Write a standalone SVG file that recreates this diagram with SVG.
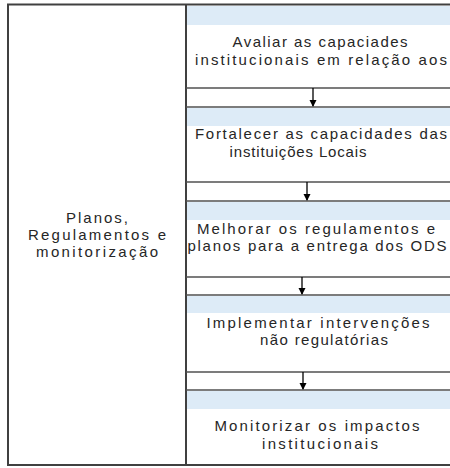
<svg xmlns="http://www.w3.org/2000/svg" width="450" height="468" viewBox="0 0 450 468">
<style>
.frame{fill:none;stroke:#404040;stroke-width:2}
.hl{stroke:#505050;stroke-width:1.5}
.band{fill:#DDEBF7}
.t{font-family:"Liberation Sans",Arial,sans-serif;font-size:15px;fill:#262626;text-anchor:middle}
.arr{stroke:#000;stroke-width:1.3;fill:none}
</style>
<defs>
<marker id="ah" markerWidth="8" markerHeight="8" refX="6" refY="4" orient="auto" markerUnits="userSpaceOnUse">
<path d="M0,0.5 L7,4 L0,7.5 Z" fill="#000"/>
</marker>
</defs>
<rect x="0" y="0" width="450" height="468" fill="#fff"/>
<g id="frame">
<path class="frame" d="M451,4.5 H8 V465 H451"/>
<line class="frame" x1="186" y1="4.5" x2="186" y2="465"/>
</g>
<g id="left">
<text class="t" x="97" y="223" textLength="62" lengthAdjust="spacing">Planos,</text>
<text class="t" x="97" y="240" textLength="138" lengthAdjust="spacing">Regulamentos e</text>
<text class="t" x="97" y="257" textLength="122" lengthAdjust="spacing">monitorização</text>
</g>
<g id="step1">
<rect class="band" x="187" y="6" width="263" height="19"/>
<text class="t" x="320" y="47" textLength="175" lengthAdjust="spacing">Avaliar as capaciades</text>
<text class="t" x="321" y="65" textLength="252" lengthAdjust="spacing">institucionais em relação aos</text>
</g>
<g id="step2">
<rect class="band" x="187" y="108" width="263" height="18"/>
<text class="t" x="321" y="139" textLength="252" lengthAdjust="spacing">Fortalecer as capacidades das</text>
<text class="t" x="298" y="157" textLength="137" lengthAdjust="spacing">instituições Locais</text>
</g>
<g id="step3">
<rect class="band" x="187" y="202" width="263" height="18"/>
<text class="t" x="316" y="234" textLength="238" lengthAdjust="spacing">Melhorar os regulamentos e</text>
<text class="t" x="317" y="251" textLength="259" lengthAdjust="spacing">planos para a entrega dos ODS</text>
</g>
<g id="step4">
<rect class="band" x="187" y="296" width="263" height="17"/>
<text class="t" x="318" y="328" textLength="223" lengthAdjust="spacing">Implementar intervenções</text>
<text class="t" x="324" y="345" textLength="128" lengthAdjust="spacing">não regulatórias</text>
</g>
<g id="step5">
<rect class="band" x="187" y="391" width="263" height="18"/>
<text class="t" x="317" y="431" textLength="205" lengthAdjust="spacing">Monitorizar os impactos</text>
<text class="t" x="320" y="449" textLength="116" lengthAdjust="spacing">institucionais</text>
</g>
<g id="connectors">
<line class="hl" x1="186" y1="88" x2="450" y2="88"/>
<line class="hl" x1="186" y1="107" x2="450" y2="107"/>
<line class="hl" x1="186" y1="182" x2="450" y2="182"/>
<line class="hl" x1="186" y1="201" x2="450" y2="201"/>
<line class="hl" x1="186" y1="277" x2="450" y2="277"/>
<line class="hl" x1="186" y1="295" x2="450" y2="295"/>
<line class="hl" x1="186" y1="372" x2="450" y2="372"/>
<line class="hl" x1="186" y1="390" x2="450" y2="390"/>
<line class="arr" x1="313" y1="88" x2="313" y2="106" marker-end="url(#ah)"/>
<line class="arr" x1="307" y1="182" x2="307" y2="200" marker-end="url(#ah)"/>
<line class="arr" x1="302" y1="277" x2="302" y2="294" marker-end="url(#ah)"/>
<line class="arr" x1="303" y1="372" x2="303" y2="389" marker-end="url(#ah)"/>
</g>
</svg>
